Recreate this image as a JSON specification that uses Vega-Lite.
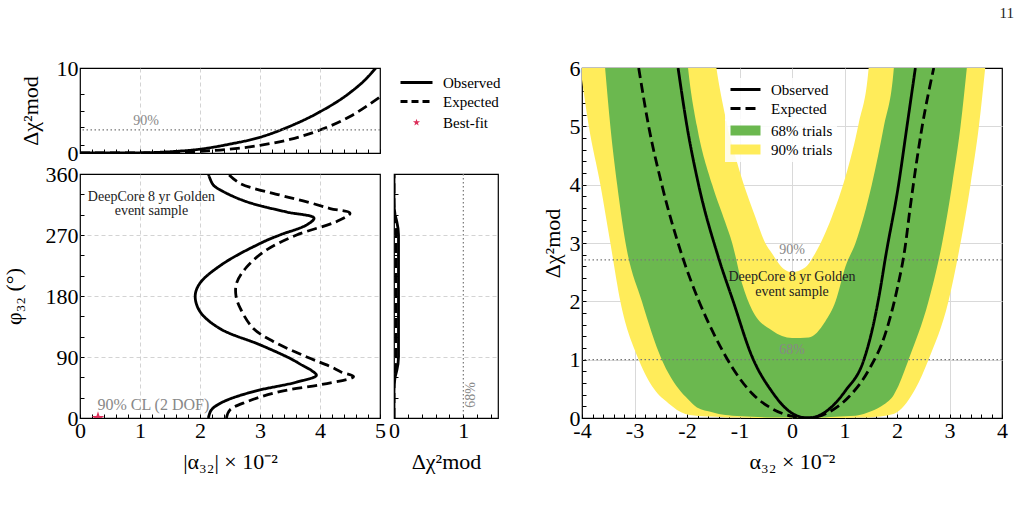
{
  "$schema": "https://vega.github.io/schema/vega-lite/v6.json",
  "background": "white",
  "padding": {"left": 1, "top": 5, "right": 5, "bottom": 5},
  "config": {
    "font": "Liberation Serif",
    "view": {"stroke": "black", "strokeWidth": 1.2},
    "axis": {
      "domain": false, "ticks": true, "tickSize": -4, "tickColor": "black", "tickWidth": 1,
      "labelFont": "Liberation Serif", "labelFontSize": 22, "labelColor": "black", "labelPadding": 6,
      "labelFlush": false, "labelOverlap": false, "format": ".0f",
      "titleFont": "Liberation Serif", "titleFontSize": 22, "titleFontWeight": "normal", "titleColor": "black",
      "grid": false
    },
    "legend": {"labelFont": "Liberation Serif", "labelFontSize": 15, "labelColor": "black", "symbolSize": 100, "rowPadding": 3, "title": null}
  },
  "datasets": {
    "topcurves": [
      {"alpha": 0, "chi": 0, "series": "Observed"},
      {"alpha": 0.5, "chi": 0, "series": "Observed"},
      {"alpha": 1.0, "chi": 0.02, "series": "Observed"},
      {"alpha": 1.5, "chi": 0.15, "series": "Observed"},
      {"alpha": 2.0, "chi": 0.45, "series": "Observed"},
      {"alpha": 2.5, "chi": 1.05, "series": "Observed"},
      {"alpha": 3.0, "chi": 1.85, "series": "Observed"},
      {"alpha": 3.5, "chi": 3.15, "series": "Observed"},
      {"alpha": 4.0, "chi": 4.85, "series": "Observed"},
      {"alpha": 4.5, "chi": 7.1, "series": "Observed"},
      {"alpha": 4.75, "chi": 8.6, "series": "Observed"},
      {"alpha": 5.0, "chi": 10.6, "series": "Observed"},
      {"alpha": 0, "chi": 0, "series": "Expected"},
      {"alpha": 1.0, "chi": 0, "series": "Expected"},
      {"alpha": 1.5, "chi": 0.05, "series": "Expected"},
      {"alpha": 2.0, "chi": 0.2, "series": "Expected"},
      {"alpha": 2.5, "chi": 0.45, "series": "Expected"},
      {"alpha": 3.0, "chi": 0.9, "series": "Expected"},
      {"alpha": 3.5, "chi": 1.6, "series": "Expected"},
      {"alpha": 4.0, "chi": 2.7, "series": "Expected"},
      {"alpha": 4.5, "chi": 4.3, "series": "Expected"},
      {"alpha": 5.0, "chi": 6.6, "series": "Expected"}
    ],
    "contour": [
      {"phi": 0, "alpha": 2.14, "series": "Observed"},
      {"phi": 12, "alpha": 2.19, "series": "Observed"},
      {"phi": 24, "alpha": 2.39, "series": "Observed"},
      {"phi": 39, "alpha": 2.89, "series": "Observed"},
      {"phi": 53, "alpha": 3.61, "series": "Observed"},
      {"phi": 63, "alpha": 3.94, "series": "Observed"},
      {"phi": 70, "alpha": 3.86, "series": "Observed"},
      {"phi": 78, "alpha": 3.7, "series": "Observed"},
      {"phi": 88, "alpha": 3.5, "series": "Observed"},
      {"phi": 108, "alpha": 3.0, "series": "Observed"},
      {"phi": 132, "alpha": 2.33, "series": "Observed"},
      {"phi": 157, "alpha": 2.0, "series": "Observed"},
      {"phi": 180, "alpha": 1.92, "series": "Observed"},
      {"phi": 199, "alpha": 2.0, "series": "Observed"},
      {"phi": 228, "alpha": 2.39, "series": "Observed"},
      {"phi": 260, "alpha": 3.06, "series": "Observed"},
      {"phi": 270, "alpha": 3.33, "series": "Observed"},
      {"phi": 285, "alpha": 3.78, "series": "Observed"},
      {"phi": 295, "alpha": 3.9, "series": "Observed"},
      {"phi": 304, "alpha": 3.44, "series": "Observed"},
      {"phi": 319, "alpha": 2.78, "series": "Observed"},
      {"phi": 334, "alpha": 2.39, "series": "Observed"},
      {"phi": 344, "alpha": 2.22, "series": "Observed"},
      {"phi": 360, "alpha": 2.14, "series": "Observed"},
      {"phi": 0, "alpha": 2.44, "series": "Expected"},
      {"phi": 12, "alpha": 2.5, "series": "Expected"},
      {"phi": 24, "alpha": 2.78, "series": "Expected"},
      {"phi": 39, "alpha": 3.33, "series": "Expected"},
      {"phi": 50, "alpha": 4.06, "series": "Expected"},
      {"phi": 61, "alpha": 4.56, "series": "Expected"},
      {"phi": 68, "alpha": 4.35, "series": "Expected"},
      {"phi": 76, "alpha": 4.17, "series": "Expected"},
      {"phi": 90, "alpha": 3.78, "series": "Expected"},
      {"phi": 113, "alpha": 3.22, "series": "Expected"},
      {"phi": 132, "alpha": 2.89, "series": "Expected"},
      {"phi": 162, "alpha": 2.67, "series": "Expected"},
      {"phi": 180, "alpha": 2.6, "series": "Expected"},
      {"phi": 199, "alpha": 2.61, "series": "Expected"},
      {"phi": 223, "alpha": 2.78, "series": "Expected"},
      {"phi": 248, "alpha": 3.11, "series": "Expected"},
      {"phi": 270, "alpha": 3.61, "series": "Expected"},
      {"phi": 290, "alpha": 4.28, "series": "Expected"},
      {"phi": 302, "alpha": 4.5, "series": "Expected"},
      {"phi": 309, "alpha": 4.17, "series": "Expected"},
      {"phi": 319, "alpha": 3.78, "series": "Expected"},
      {"phi": 329, "alpha": 3.33, "series": "Expected"},
      {"phi": 346, "alpha": 2.67, "series": "Expected"},
      {"phi": 360, "alpha": 2.47, "series": "Expected"}
    ],
    "side": [
      {"phi": 0, "chi": 0, "series": "Observed"},
      {"phi": 40, "chi": 0, "series": "Observed"},
      {"phi": 50, "chi": 0.003, "series": "Observed"},
      {"phi": 60, "chi": 0.015, "series": "Observed"},
      {"phi": 70, "chi": 0.04, "series": "Observed"},
      {"phi": 80, "chi": 0.058, "series": "Observed"},
      {"phi": 90, "chi": 0.065, "series": "Observed"},
      {"phi": 180, "chi": 0.065, "series": "Observed"},
      {"phi": 270, "chi": 0.065, "series": "Observed"},
      {"phi": 280, "chi": 0.058, "series": "Observed"},
      {"phi": 290, "chi": 0.04, "series": "Observed"},
      {"phi": 300, "chi": 0.015, "series": "Observed"},
      {"phi": 310, "chi": 0.003, "series": "Observed"},
      {"phi": 320, "chi": 0, "series": "Observed"},
      {"phi": 360, "chi": 0, "series": "Observed"},
      {"phi": 0, "chi": 0, "series": "Expected"},
      {"phi": 50, "chi": 0, "series": "Expected"},
      {"phi": 60, "chi": 0.006, "series": "Expected"},
      {"phi": 70, "chi": 0.018, "series": "Expected"},
      {"phi": 80, "chi": 0.027, "series": "Expected"},
      {"phi": 90, "chi": 0.03, "series": "Expected"},
      {"phi": 180, "chi": 0.03, "series": "Expected"},
      {"phi": 270, "chi": 0.03, "series": "Expected"},
      {"phi": 280, "chi": 0.027, "series": "Expected"},
      {"phi": 290, "chi": 0.018, "series": "Expected"},
      {"phi": 300, "chi": 0.006, "series": "Expected"},
      {"phi": 310, "chi": 0, "series": "Expected"},
      {"phi": 360, "chi": 0, "series": "Expected"}
    ],
    "levels": [
      {"level": 1.0, "label": "68%"},
      {"level": 2.71, "label": "90%"}
    ],
    "bestfit": [{"alpha": 0.3, "phi": 0}],
    "band90": [
      {"a": -4.0, "lo": 5.8, "hi": 8, "series": "90% trials"},
      {"a": -3.87, "lo": 5.0, "hi": 8, "series": "90% trials"},
      {"a": -3.65, "lo": 4.0, "hi": 8, "series": "90% trials"},
      {"a": -3.46, "lo": 3.0, "hi": 8, "series": "90% trials"},
      {"a": -3.27, "lo": 2.0, "hi": 8, "series": "90% trials"},
      {"a": -2.92, "lo": 1.0, "hi": 8, "series": "90% trials"},
      {"a": -2.63, "lo": 0.5, "hi": 8, "series": "90% trials"},
      {"a": -2.35, "lo": 0.25, "hi": 8, "series": "90% trials"},
      {"a": -2.03, "lo": 0.07, "hi": 8, "series": "90% trials"},
      {"a": -1.7, "lo": 0.03, "hi": 8, "series": "90% trials"},
      {"a": -1.44, "lo": 0.02, "hi": 6.0, "series": "90% trials"},
      {"a": -1.27, "lo": 0.01, "hi": 5.17, "series": "90% trials"},
      {"a": -1.02, "lo": 0.01, "hi": 4.3, "series": "90% trials"},
      {"a": -0.7, "lo": 0, "hi": 3.45, "series": "90% trials"},
      {"a": -0.51, "lo": 0, "hi": 3.0, "series": "90% trials"},
      {"a": -0.38, "lo": 0, "hi": 2.82, "series": "90% trials"},
      {"a": -0.15, "lo": 0, "hi": 2.55, "series": "90% trials"},
      {"a": 0.0, "lo": 0, "hi": 2.5, "series": "90% trials"},
      {"a": 0.25, "lo": 0, "hi": 2.58, "series": "90% trials"},
      {"a": 0.44, "lo": 0, "hi": 2.82, "series": "90% trials"},
      {"a": 0.76, "lo": 0, "hi": 3.45, "series": "90% trials"},
      {"a": 1.02, "lo": 0, "hi": 4.14, "series": "90% trials"},
      {"a": 1.27, "lo": 0.01, "hi": 5.05, "series": "90% trials"},
      {"a": 1.46, "lo": 0.01, "hi": 6.0, "series": "90% trials"},
      {"a": 1.6, "lo": 0.02, "hi": 8, "series": "90% trials"},
      {"a": 1.78, "lo": 0.04, "hi": 8, "series": "90% trials"},
      {"a": 2.0, "lo": 0.1, "hi": 8, "series": "90% trials"},
      {"a": 2.35, "lo": 0.5, "hi": 8, "series": "90% trials"},
      {"a": 2.6, "lo": 1.0, "hi": 8, "series": "90% trials"},
      {"a": 2.98, "lo": 2.0, "hi": 8, "series": "90% trials"},
      {"a": 3.21, "lo": 3.0, "hi": 8, "series": "90% trials"},
      {"a": 3.4, "lo": 4.0, "hi": 8, "series": "90% trials"},
      {"a": 3.56, "lo": 5.0, "hi": 8, "series": "90% trials"},
      {"a": 3.68, "lo": 6.0, "hi": 8, "series": "90% trials"}
    ],
    "band68": [
      {"a": -3.56, "lo": 6.0, "hi": 8, "series": "68% trials"},
      {"a": -3.46, "lo": 5.0, "hi": 8, "series": "68% trials"},
      {"a": -3.33, "lo": 4.0, "hi": 8, "series": "68% trials"},
      {"a": -3.17, "lo": 3.0, "hi": 8, "series": "68% trials"},
      {"a": -2.86, "lo": 2.0, "hi": 8, "series": "68% trials"},
      {"a": -2.48, "lo": 1.0, "hi": 8, "series": "68% trials"},
      {"a": -2.16, "lo": 0.5, "hi": 8, "series": "68% trials"},
      {"a": -1.98, "lo": 0.32, "hi": 6.0, "series": "68% trials"},
      {"a": -1.81, "lo": 0.18, "hi": 5.0, "series": "68% trials"},
      {"a": -1.52, "lo": 0.1, "hi": 4.0, "series": "68% trials"},
      {"a": -1.27, "lo": 0.05, "hi": 3.35, "series": "68% trials"},
      {"a": -1.14, "lo": 0.04, "hi": 3.0, "series": "68% trials"},
      {"a": -0.95, "lo": 0.03, "hi": 2.3, "series": "68% trials"},
      {"a": -0.76, "lo": 0.02, "hi": 1.85, "series": "68% trials"},
      {"a": -0.38, "lo": 0.01, "hi": 1.5, "series": "68% trials"},
      {"a": 0.0, "lo": 0.01, "hi": 1.37, "series": "68% trials"},
      {"a": 0.32, "lo": 0.01, "hi": 1.38, "series": "68% trials"},
      {"a": 0.63, "lo": 0.01, "hi": 1.65, "series": "68% trials"},
      {"a": 0.83, "lo": 0.02, "hi": 2.0, "series": "68% trials"},
      {"a": 1.02, "lo": 0.03, "hi": 2.6, "series": "68% trials"},
      {"a": 1.21, "lo": 0.04, "hi": 3.0, "series": "68% trials"},
      {"a": 1.52, "lo": 0.12, "hi": 4.0, "series": "68% trials"},
      {"a": 1.75, "lo": 0.23, "hi": 5.0, "series": "68% trials"},
      {"a": 1.94, "lo": 0.4, "hi": 6.0, "series": "68% trials"},
      {"a": 2.0, "lo": 0.5, "hi": 8, "series": "68% trials"},
      {"a": 2.22, "lo": 1.0, "hi": 8, "series": "68% trials"},
      {"a": 2.6, "lo": 2.0, "hi": 8, "series": "68% trials"},
      {"a": 2.86, "lo": 3.0, "hi": 8, "series": "68% trials"},
      {"a": 3.05, "lo": 4.0, "hi": 8, "series": "68% trials"},
      {"a": 3.21, "lo": 5.0, "hi": 8, "series": "68% trials"},
      {"a": 3.33, "lo": 6.0, "hi": 8, "series": "68% trials"}
    ],
    "profile": [
      {"a": -2.17, "chi": 6.0, "series": "Observed"},
      {"a": -2.0, "chi": 5.0, "series": "Observed"},
      {"a": -1.78, "chi": 4.0, "series": "Observed"},
      {"a": -1.4, "chi": 2.75, "series": "Observed"},
      {"a": -1.12, "chi": 2.0, "series": "Observed"},
      {"a": -0.76, "chi": 1.05, "series": "Observed"},
      {"a": -0.38, "chi": 0.45, "series": "Observed"},
      {"a": -0.06, "chi": 0.12, "series": "Observed"},
      {"a": 0.15, "chi": 0.02, "series": "Observed"},
      {"a": 0.3, "chi": 0.0, "series": "Observed"},
      {"a": 0.45, "chi": 0.02, "series": "Observed"},
      {"a": 0.63, "chi": 0.1, "series": "Observed"},
      {"a": 1.02, "chi": 0.47, "series": "Observed"},
      {"a": 1.37, "chi": 1.0, "series": "Observed"},
      {"a": 1.55, "chi": 1.6, "series": "Observed"},
      {"a": 1.68, "chi": 2.2, "series": "Observed"},
      {"a": 1.78, "chi": 2.75, "series": "Observed"},
      {"a": 2.03, "chi": 4.0, "series": "Observed"},
      {"a": 2.19, "chi": 5.0, "series": "Observed"},
      {"a": 2.35, "chi": 6.0, "series": "Observed"},
      {"a": -2.92, "chi": 6.0, "series": "Expected"},
      {"a": -2.73, "chi": 5.0, "series": "Expected"},
      {"a": -2.48, "chi": 4.0, "series": "Expected"},
      {"a": -2.1, "chi": 2.8, "series": "Expected"},
      {"a": -1.78, "chi": 2.02, "series": "Expected"},
      {"a": -1.46, "chi": 1.39, "series": "Expected"},
      {"a": -1.14, "chi": 0.87, "series": "Expected"},
      {"a": -0.76, "chi": 0.42, "series": "Expected"},
      {"a": -0.38, "chi": 0.16, "series": "Expected"},
      {"a": 0.0, "chi": 0.03, "series": "Expected"},
      {"a": 0.3, "chi": 0.0, "series": "Expected"},
      {"a": 0.7, "chi": 0.1, "series": "Expected"},
      {"a": 1.08, "chi": 0.36, "series": "Expected"},
      {"a": 1.46, "chi": 0.82, "series": "Expected"},
      {"a": 1.78, "chi": 1.45, "series": "Expected"},
      {"a": 2.0, "chi": 2.2, "series": "Expected"},
      {"a": 2.15, "chi": 2.9, "series": "Expected"},
      {"a": 2.25, "chi": 3.6, "series": "Expected"},
      {"a": 2.48, "chi": 5.0, "series": "Expected"},
      {"a": 2.7, "chi": 6.0, "series": "Expected"}
    ]
  },
  "hconcat": [
    {
      "vconcat": [
        {
          "width": 300,
          "height": 85,
          "layer": [
            {
              "data": {"name": "topcurves"},
              "mark": {"type": "line", "strokeWidth": 2.8, "color": "black", "clip": true, "interpolate": "monotone"},
              "encoding": {
                "x": {
                  "field": "alpha", "type": "quantitative",
                  "scale": {"domain": [0, 5], "nice": false, "zero": false},
                  "axis": {
                    "values": [0,0.2,0.4,0.6,0.8,1,1.2,1.4,1.6,1.8,2,2.2,2.4,2.6,2.8,3,3.2,3.4,3.6,3.8,4,4.2,4.4,4.6,4.8,5],
                    "tickCount": 200, "labels": false, "title": null,
                    "grid": true, "gridColor": "#c8c8c8", "gridDash": [4, 3], "gridWidth": 0.8,
                    "gridOpacity": {"condition": {"test": "datum.value % 1 == 0 && datum.value > 0 && datum.value < 5", "value": 1}, "value": 0}
                  }
                },
                "y": {
                  "field": "chi", "type": "quantitative",
                  "scale": {"domain": [0, 10], "nice": false},
                  "axis": {
                    "values": [0, 1, 3, 5, 7, 10], "tickCount": 200,
                    "labelExpr": "datum.value == 0 || datum.value == 10 ? datum.label : ''",
                    "title": "Δχ²mod", "titlePadding": 14
                  }
                },
                "strokeDash": {
                  "field": "series", "type": "nominal",
                  "scale": {"domain": ["Observed", "Expected"], "range": [[1, 0], [10, 5]]},
                  "legend": null
                }
              }
            },
            {
              "data": {"name": "levels"},
              "transform": [{"filter": "datum.label == '90%'"}],
              "mark": {"type": "rule", "color": "#777777", "strokeWidth": 1.2, "strokeDash": [1.5, 2.5]},
              "encoding": {"y": {"field": "level", "type": "quantitative"}}
            },
            {
              "data": {"name": "levels"},
              "transform": [{"filter": "datum.label == '90%'"}],
              "mark": {"type": "text", "color": "#888888", "fontSize": 14, "baseline": "bottom", "align": "center", "dy": -2},
              "encoding": {
                "x": {"datum": 1.1, "type": "quantitative"},
                "y": {"field": "level", "type": "quantitative"},
                "text": {"field": "label"}
              }
            }
          ]
        },
        {
          "width": 300,
          "height": 244,
          "layer": [
            {
              "data": {"name": "contour"},
              "mark": {"type": "line", "strokeWidth": 2.8, "color": "black", "clip": true, "interpolate": "catmull-rom"},
              "encoding": {
                "x": {
                  "field": "alpha", "type": "quantitative",
                  "scale": {"domain": [0, 5], "nice": false, "zero": false},
                  "axis": {
                    "values": [0,0.2,0.4,0.6,0.8,1,1.2,1.4,1.6,1.8,2,2.2,2.4,2.6,2.8,3,3.2,3.4,3.6,3.8,4,4.2,4.4,4.6,4.8,5],
                    "tickCount": 200,
                    "labelExpr": "datum.value % 1 == 0 ? datum.label : ''",
                    "title": "|α₃₂| × 10⁻²", "titlePadding": 10,
                    "grid": true, "gridColor": "#c8c8c8", "gridDash": [4, 3], "gridWidth": 0.8,
                    "gridOpacity": {"condition": {"test": "datum.value % 1 == 0 && datum.value > 0 && datum.value < 5", "value": 1}, "value": 0}
                  }
                },
                "y": {
                  "field": "phi", "type": "quantitative",
                  "scale": {"domain": [0, 360], "nice": false},
                  "axis": {
                    "values": [0,30,60,90,120,150,180,210,240,270,300,330,360],
                    "tickCount": 200,
                    "labelExpr": "datum.value % 90 == 0 ? datum.label : ''",
                    "title": "φ₃₂ (°)", "titlePadding": 20,
                    "grid": true, "gridColor": "#c8c8c8", "gridDash": [4, 3], "gridWidth": 0.8,
                    "gridOpacity": {"condition": {"test": "datum.value % 90 == 0 && datum.value > 0 && datum.value < 360", "value": 1}, "value": 0}
                  }
                },
                "order": {"field": "phi", "type": "quantitative"},
                "strokeDash": {
                  "field": "series", "type": "nominal",
                  "scale": {"domain": ["Observed", "Expected"], "range": [[1, 0], [10, 5]]},
                  "legend": null
                }
              }
            },
            {
              "data": {"values": [{}]},
              "mark": {"type": "text", "align": "center", "baseline": "middle", "fontSize": 14, "color": "#222222"},
              "encoding": {
                "x": {"datum": 1.19, "type": "quantitative"},
                "y": {"datum": 326, "type": "quantitative"},
                "text": {"value": "DeepCore 8 yr Golden"}
              }
            },
            {
              "data": {"values": [{}]},
              "mark": {"type": "text", "align": "center", "baseline": "middle", "fontSize": 14, "color": "#222222"},
              "encoding": {
                "x": {"datum": 1.19, "type": "quantitative"},
                "y": {"datum": 306, "type": "quantitative"},
                "text": {"value": "event sample"}
              }
            },
            {
              "data": {"values": [{}]},
              "mark": {"type": "text", "align": "left", "baseline": "middle", "fontSize": 16, "color": "#888888"},
              "encoding": {
                "x": {"datum": 0.29, "type": "quantitative"},
                "y": {"datum": 19, "type": "quantitative"},
                "text": {"value": "90% CL (2 DOF)"}
              }
            },
            {
              "data": {"name": "bestfit"},
              "mark": {
                "type": "point", "filled": true, "color": "#dc2f5a", "opacity": 1, "size": 180, "clip": true,
                "shape": "M0,-1L0.2245,-0.309L0.9511,-0.309L0.3633,0.118L0.5878,0.809L0,0.382L-0.5878,0.809L-0.3633,0.118L-0.9511,-0.309L-0.2245,-0.309Z"
              },
              "encoding": {
                "x": {"field": "alpha", "type": "quantitative"},
                "y": {"field": "phi", "type": "quantitative"}
              }
            }
          ]
        }
      ],
      "spacing": 21,
      "bounds": "flush",
      "resolve": {"scale": {"strokeDash": "independent"}}
    },
    {
      "hconcat": [
        {
          "vconcat": [
            {
              "width": 104,
              "height": 85,
              "view": {"stroke": null},
              "layer": [
                {
                  "data": {"values": []},
                  "mark": {"type": "line", "color": "black", "strokeWidth": 2.8},
                  "encoding": {
                    "strokeDash": {
                      "field": "series", "type": "nominal",
                      "scale": {"domain": ["Observed", "Expected"], "range": [[1, 0], [7, 4]]},
                      "legend": {
                        "orient": "none", "legendX": 5, "legendY": 7, "padding": 0, "labelOffset": 29,
                        "symbolType": "M-1.2,0L5.2,0", "symbolStrokeWidth": 2.8, "symbolStrokeColor": "black"
                      }
                    }
                  }
                },
                {
                  "data": {"values": []},
                  "mark": {"type": "point", "filled": true, "color": "#dc2f5a", "opacity": 1},
                  "encoding": {
                    "shape": {
                      "field": "marker", "type": "nominal",
                      "scale": {"domain": ["Best-fit"], "range": ["M2,-0.75L2.17,-0.23L2.71,-0.23L2.27,0.09L2.44,0.61L2,0.29L1.56,0.61L1.73,0.09L1.29,-0.23L1.83,-0.23Z"]},
                      "legend": {
                        "orient": "none", "legendX": 5, "legendY": 47, "padding": 0, "labelOffset": 29,
                        "symbolFillColor": "#dc2f5a", "symbolStrokeColor": "#dc2f5a", "symbolStrokeWidth": 0.5, "symbolOpacity": 1
                      }
                    }
                  }
                }
              ]
            },
            {
              "width": 104,
              "height": 244,
              "layer": [
                {
                  "data": {"name": "side"},
                  "mark": {"type": "line", "strokeWidth": 2.8, "color": "black", "clip": true},
                  "encoding": {
                    "x": {
                      "field": "chi", "type": "quantitative",
                      "scale": {"domain": [0, 1.5], "nice": false, "zero": false},
                      "axis": {
                        "values": [0, 0.2, 0.4, 0.6, 0.8, 1, 1.2, 1.4], "tickCount": 200,
                        "labelExpr": "datum.value == 0 || datum.value == 1 ? datum.label : ''",
                        "title": "Δχ²mod", "titlePadding": 10
                      }
                    },
                    "y": {
                      "field": "phi", "type": "quantitative",
                      "scale": {"domain": [0, 360], "nice": false},
                      "axis": {
                        "values": [0,30,60,90,120,150,180,210,240,270,300,330,360], "tickCount": 200,
                        "labels": false, "title": null,
                        "grid": true, "gridColor": "#c8c8c8", "gridDash": [4, 3], "gridWidth": 0.8,
                        "gridOpacity": {"condition": {"test": "datum.value % 90 == 0 && datum.value > 0 && datum.value < 360", "value": 1}, "value": 0}
                      }
                    },
                    "order": {"field": "phi", "type": "quantitative"},
                    "strokeDash": {
                      "field": "series", "type": "nominal",
                      "scale": {"domain": ["Observed", "Expected"], "range": [[1, 0], [10, 5]]},
                      "legend": null
                    }
                  }
                },
                {
                  "data": {"name": "levels"},
                  "transform": [{"filter": "datum.label == '68%'"}],
                  "mark": {"type": "rule", "color": "#777777", "strokeWidth": 1.2, "strokeDash": [1.5, 2.5]},
                  "encoding": {"x": {"field": "level", "type": "quantitative"}}
                },
                {
                  "data": {"name": "levels"},
                  "transform": [{"filter": "datum.label == '68%'"}],
                  "mark": {"type": "text", "color": "#888888", "fontSize": 14, "angle": 270, "align": "center", "baseline": "middle"},
                  "encoding": {
                    "x": {"datum": 1.11, "type": "quantitative"},
                    "y": {"datum": 34, "type": "quantitative"},
                    "text": {"field": "label"}
                  }
                }
              ]
            }
          ],
          "spacing": 21,
          "bounds": "flush",
          "resolve": {"scale": {"strokeDash": "independent"}}
        },
        {
          "width": 420,
          "height": 350,
          "title": {"text": "11", "anchor": "end", "orient": "top", "frame": "group", "offset": 36, "dx": 12, "fontSize": 15, "fontWeight": "normal", "font": "Liberation Serif", "color": "#222222"},
          "layer": [
            {
              "data": {"name": "band90"},
              "mark": {"type": "area", "clip": true, "opacity": 1, "interpolate": "monotone"},
              "encoding": {
                "x": {
                  "field": "a", "type": "quantitative",
                  "scale": {"domain": [-4, 4], "nice": false, "zero": false},
                  "axis": {
                    "values": [-4,-3.8,-3.6,-3.4,-3.2,-3,-2.8,-2.6,-2.4,-2.2,-2,-1.8,-1.6,-1.4,-1.2,-1,-0.8,-0.6,-0.4,-0.2,0,0.2,0.4,0.6,0.8,1,1.2,1.4,1.6,1.8,2,2.2,2.4,2.6,2.8,3,3.2,3.4,3.6,3.8,4],
                    "tickCount": 200,
                    "labelExpr": "datum.value % 1 == 0 ? replace(datum.label, '\u2212', '-') : ''",
                    "title": "α₃₂ × 10⁻²", "titlePadding": 10,
                    "grid": true, "gridColor": "#d9d9d9", "gridWidth": 1,
                    "gridOpacity": {"condition": {"test": "datum.value % 1 == 0 && datum.value > -4 && datum.value < 4", "value": 1}, "value": 0}
                  }
                },
                "y": {
                  "field": "lo", "type": "quantitative",
                  "scale": {"domain": [0, 6], "nice": false},
                  "axis": {
                    "values": [0,0.2,0.4,0.6,0.8,1,1.2,1.4,1.6,1.8,2,2.2,2.4,2.6,2.8,3,3.2,3.4,3.6,3.8,4,4.2,4.4,4.6,4.8,5,5.2,5.4,5.6,5.8,6],
                    "tickCount": 200,
                    "labelExpr": "datum.value % 1 == 0 ? datum.label : ''",
                    "title": "Δχ²mod", "titlePadding": 5,
                    "grid": true, "gridColor": "#d9d9d9", "gridWidth": 1,
                    "gridOpacity": {"condition": {"test": "datum.value % 1 == 0 && datum.value > 0 && datum.value < 6", "value": 1}, "value": 0}
                  }
                },
                "y2": {"field": "hi"},
                "color": {
                  "field": "series", "type": "nominal",
                  "scale": {"domain": ["68% trials", "90% trials"], "range": ["#6bb84f", "#ffec5a"]},
                  "legend": {
                    "orient": "none", "legendX": 143, "legendY": 51, "padding": 4, "labelOffset": 27,
                    "fillColor": "rgba(255,255,255,0.85)",
                    "symbolType": "M-1.2,-1L4.8,-1L4.8,1L-1.2,1Z", "symbolStrokeWidth": 0, "symbolOpacity": 1
                  }
                }
              }
            },
            {
              "data": {"name": "band68"},
              "mark": {"type": "area", "clip": true, "opacity": 1, "interpolate": "monotone"},
              "encoding": {
                "x": {"field": "a", "type": "quantitative"},
                "y": {"field": "lo", "type": "quantitative"},
                "y2": {"field": "hi"},
                "color": {"field": "series", "type": "nominal"}
              }
            },
            {
              "data": {"name": "levels"},
              "mark": {"type": "rule", "color": "#777777", "strokeWidth": 1.2, "strokeDash": [1.5, 2.5]},
              "encoding": {"y": {"field": "level", "type": "quantitative"}}
            },
            {
              "data": {"name": "levels"},
              "mark": {"type": "text", "color": "#888888", "fontSize": 14, "baseline": "bottom", "align": "center", "dy": -3},
              "encoding": {
                "x": {"datum": 0, "type": "quantitative"},
                "y": {"field": "level", "type": "quantitative"},
                "text": {"field": "label"}
              }
            },
            {
              "data": {"values": [{}]},
              "mark": {"type": "text", "align": "center", "baseline": "middle", "fontSize": 14, "color": "#222222"},
              "encoding": {
                "x": {"datum": 0, "type": "quantitative"},
                "y": {"datum": 2.41, "type": "quantitative"},
                "text": {"value": "DeepCore 8 yr Golden"}
              }
            },
            {
              "data": {"values": [{}]},
              "mark": {"type": "text", "align": "center", "baseline": "middle", "fontSize": 14, "color": "#222222"},
              "encoding": {
                "x": {"datum": 0, "type": "quantitative"},
                "y": {"datum": 2.16, "type": "quantitative"},
                "text": {"value": "event sample"}
              }
            },
            {
              "data": {"name": "profile"},
              "mark": {"type": "line", "strokeWidth": 2.8, "color": "black", "clip": true, "interpolate": "monotone"},
              "encoding": {
                "x": {"field": "a", "type": "quantitative"},
                "y": {"field": "chi", "type": "quantitative"},
                "strokeDash": {
                  "field": "series", "type": "nominal",
                  "scale": {"domain": ["Observed", "Expected"], "range": [[1, 0], [10, 5]]},
                  "legend": {
                    "orient": "none", "legendX": 143, "legendY": 10, "padding": 4, "labelOffset": 27,
                    "fillColor": "rgba(255,255,255,0.85)",
                    "symbolType": "M-1.2,0L4.8,0", "symbolStrokeWidth": 2.8, "symbolStrokeColor": "black"
                  }
                }
              }
            }
          ]
        }
      ],
      "spacing": 39,
      "resolve": {"scale": {"color": "independent", "strokeDash": "independent", "shape": "independent"}}
    }
  ],
  "spacing": 0,
  "resolve": {"scale": {"color": "independent", "strokeDash": "independent", "shape": "independent"}}
}
